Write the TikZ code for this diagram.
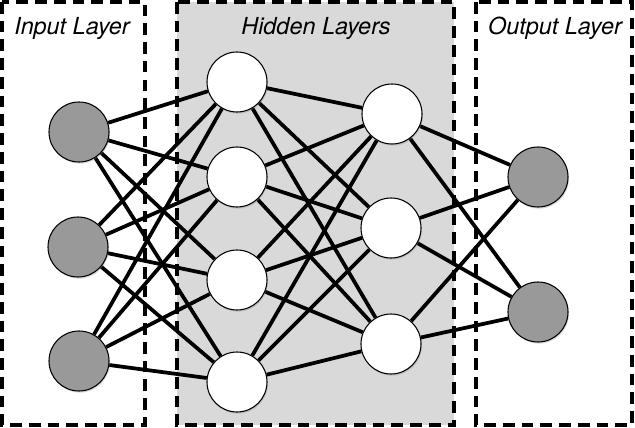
\documentclass[tikz,border=0pt]{standalone}
\usepackage{fontspec}
\setsansfont{TeX Gyre Heros}
\usetikzlibrary{positioning, shadows, backgrounds}
\definecolor{nodeG}{RGB}{153,153,153}
\definecolor{hidG} {RGB}{217,217,217}
\pgfdeclarelayer{edges}
\pgfsetlayers{background,edges,main}
\tikzset{
  neuron/.style  = {circle, draw=black, line width=0.9pt, minimum size=1.8cm,
                    inner sep=0pt,
                    drop shadow={opacity=0.3, shadow xshift=0.8pt,
                                 shadow yshift=-1.4pt}},
  inN/.style     = {neuron, fill=nodeG},
  hidN/.style    = {neuron, fill=white},
  outN/.style    = {neuron, fill=nodeG},
  layerbox/.style= {draw=black, line width=3.2pt, dash pattern=on 10pt off 6pt},
  layerlbl/.style= {anchor=base, inner sep=0pt,
                    font=\sffamily\itshape\fontsize{20}{24}\selectfont},
  link/.style    = {line width=3.2pt, color=black},
}

\begin{document}
\begin{tikzpicture}[x=0.03cm, y=-0.03cm]

\useasboundingbox (0,0) rectangle (635,428);

% ---- Layer boxes ------------------------------------------------------------
\begin{scope}[on background layer]
  \fill[hidG] (177,2) rectangle (454,425);
  \draw[layerbox] (2,2)   rectangle (145,425);
  \draw[layerbox] (177,2) rectangle (454,425);
  \draw[layerbox] (476,2) rectangle (632,425);
\end{scope}

\node[layerlbl] (lin)  at (72,35)  {Input Layer};
\node[layerlbl] (lhid) at (316,35) {Hidden Layers};
\node[layerlbl] (lout) at (555,35) {Output Layer};

% ---- Input layer ------------------------------------------------------------
\node[inN] (i1) at (79,132) {};
\node[inN] (i2) at (78,247) {};
\node[inN] (i3) at (79,361) {};

% ---- Hidden layers ----------------------------------------------------------
\node[hidN] (h1) at (237,82)  {};
\node[hidN] (h2) at (237,177) {};
\node[hidN] (h3) at (237,280) {};
\node[hidN] (h4) at (237,382) {};

\node[hidN] (k1) at (392,114) {};
\node[hidN] (k2) at (391,228) {};
\node[hidN] (k3) at (391,344) {};

% ---- Output layer -----------------------------------------------------------
\node[outN] (o1) at (538,177) {};
\node[outN] (o2) at (538,312) {};

% ---- Connections ------------------------------------------------------------
\begin{pgfonlayer}{edges}
  \foreach \a in {1,2,3}
    \foreach \b in {1,...,4}
      \draw[link] (i\a) -- (h\b);
  \foreach \a in {1,...,4}
    \foreach \b in {1,2,3}
      \draw[link] (h\a) -- (k\b);
  \foreach \a in {1,2,3}
    \foreach \b in {1,2}
      \draw[link] (k\a) -- (o\b);
\end{pgfonlayer}

\end{tikzpicture}
\end{document}
